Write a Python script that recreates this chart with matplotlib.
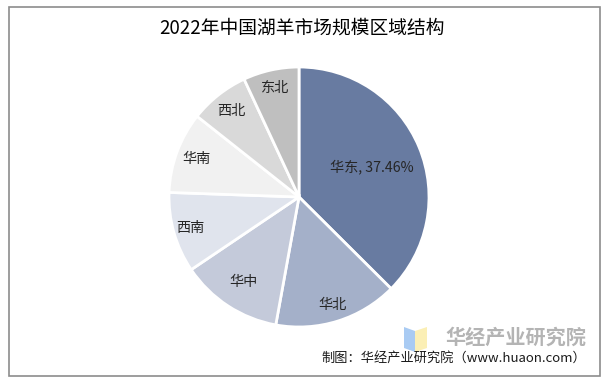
import matplotlib
matplotlib.use("Agg")
import matplotlib.pyplot as plt
import numpy as np
from matplotlib.patches import Rectangle, Polygon

plt.rcParams['font.family'] = ['Noto Sans CJK SC', 'DejaVu Sans']

regions = ['华东', '华北', '华中', '西南', '华南', '西北', '东北']
shares = [37.46, 15.4, 12.7, 10.0, 10.1, 7.4, 6.94]
colors = ['#687BA1', '#A4B0C9', '#C4CADA', '#E0E4ED', '#F1F1F1', '#D9D9D9', '#BFBFBF']
label_dist = [0.61, 0.87, 0.78, 0.87, 0.84, 0.84, 0.86]
title = '2022年中国湖羊市场规模区域结构'
source = '制图：华经产业研究院（www.huaon.com）'
brand = '华经产业研究院'

W, H = 607, 382
fig = plt.figure(figsize=(W / 100, H / 100), dpi=100)
fig.patch.set_facecolor('white')

# border
fig.add_artist(Rectangle((8.5 / W, 1 - 375.5 / H), 591 / W, 369 / H,
                         transform=fig.transFigure, fill=False,
                         edgecolor='#8C8C8C', linewidth=1.2))

cx, cy, r = 299, 197, 130
ax = fig.add_axes([(cx - r) / W, (H - cy - r) / H, 2 * r / W, 2 * r / H])
wedges, _ = ax.pie(shares, colors=colors, startangle=90, counterclock=False,
                   radius=1, wedgeprops=dict(edgecolor='white', linewidth=2))
ax.set_xlim(-1, 1)
ax.set_ylim(-1, 1)
ax.set_aspect('equal')
ax.axis('off')

for w, name, val, d in zip(wedges, regions, shares, label_dist):
    ang = np.deg2rad((w.theta1 + w.theta2) / 2)
    txt = f'{name}, {val:.2f}%' if name == '华东' else name
    ax.text(d * np.cos(ang), d * np.sin(ang), txt, ha='center', va='center',
            fontsize=10.2, color='#262626')

fig.text(302 / W, 1 - 28 / H, title, ha='center', va='center',
         fontsize=13.5, fontweight='medium', color='black')

# logo watermark
fig.add_artist(Polygon([(404 / W, 1 - 327 / H), (415 / W, 1 - 331 / H),
                        (415 / W, 1 - 352 / H), (404 / W, 1 - 348 / H)],
                       closed=True, transform=fig.transFigure,
                       facecolor='#A9CBF3', edgecolor='none'))
fig.add_artist(Polygon([(415 / W, 1 - 331 / H), (427 / W, 1 - 327 / H),
                        (427 / W, 1 - 348 / H), (415 / W, 1 - 352 / H)],
                       closed=True, transform=fig.transFigure,
                       facecolor='#FBEFB5', edgecolor='none'))
fig.text(516 / W, 1 - 337 / H, brand, ha='center', va='center',
         fontsize=14.5, fontweight='bold', color='#B4B4B4')
fig.text(586 / W, 1 - 358 / H, source, ha='right', va='center',
         fontsize=9.5, color='#1A1A1A')

fig.savefig('out.png', dpi=100)
